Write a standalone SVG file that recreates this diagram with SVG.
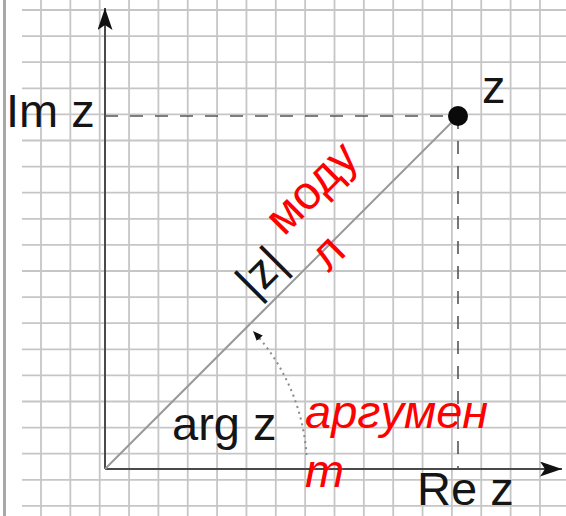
<svg xmlns="http://www.w3.org/2000/svg" width="566" height="516" viewBox="0 0 566 516">
<style>
.grid{stroke:#c6c6c6;stroke-width:1.8;fill:none}
.border{stroke:#a8a8a8;stroke-width:3;fill:none}
.axis{stroke:#4a4a4a;stroke-width:2;fill:none}
.dash{stroke:#555;stroke-width:1.6;stroke-dasharray:13 12;fill:none}
.radius{stroke:#9a9a9a;stroke-width:2;fill:none}
.arc{stroke:#8a8a8a;stroke-width:2;stroke-dasharray:2 4;fill:none}
.lbl{font-family:"Liberation Sans",Arial,sans-serif;font-size:47px;fill:#151515}
.red{font-family:"Liberation Sans",Arial,sans-serif;font-size:47px;fill:#ff0000}
.it{font-style:italic}
</style>
<defs>
<marker id="axhead" viewBox="0 0 22 15" refX="22" refY="7.5" markerWidth="22" markerHeight="15" markerUnits="userSpaceOnUse" orient="auto">
<path d="M0,0 L22,7.5 L0,15 L5,7.5 z" fill="#111"/>
</marker>
<marker id="archead" viewBox="0 0 10 8" refX="10" refY="4" markerWidth="10" markerHeight="8" markerUnits="userSpaceOnUse" orient="auto">
<path d="M0,0 L10,4 L0,8 z" fill="#111"/>
</marker>
</defs>
<rect width="566" height="516" fill="#ffffff"/>
<g id="grid">
<path class="grid" d="M41,0V516M70.35,0V516M99.7,0V516M129.05,0V516M158.4,0V516M187.75,0V516M217.1,0V516M246.45,0V516M275.8,0V516M305.15,0V516M334.5,0V516M363.85,0V516M393.2,0V516M422.55,0V516M451.9,0V516M481.25,0V516M510.6,0V516M539.95,0V516"/>
<path class="grid" d="M22,10H566M22,36.1H566M22,62.2H566M22,88.3H566M22,114.4H566M22,140.5H566M22,166.6H566M22,192.7H566M22,218.8H566M22,244.9H566M22,271H566M22,297.1H566M22,323.2H566M22,349.3H566M22,375.4H566M22,401.5H566M22,427.6H566M22,453.7H566M22,479.8H566M22,505.9H566"/>
<path class="border" d="M4.5,0V516"/>
</g>
<g id="connectors">
<path class="axis" d="M105,469V8" marker-end="url(#axhead)"/>
<path class="axis" d="M105,469H562" marker-end="url(#axhead)"/>
<path class="dash" d="M105,116H458"/>
<path class="dash" d="M458,116V469"/>
<path class="radius" d="M105,469L458,116"/>
<path class="arc" d="M306.5,455 A202,202 0 0 0 253,331" marker-end="url(#archead)"/>
</g>
<g id="point-z">
<circle cx="458" cy="116" r="10" fill="#0a0a0a"/>
<text class="lbl" x="482" y="103">z</text>
</g>
<g id="label-im">
<text class="lbl" x="6" y="127" font-size="49">Im z</text>
</g>
<g id="label-re">
<text class="lbl" x="417" y="505" font-size="44">Re z</text>
</g>
<g id="label-arg">
<text class="lbl" x="172" y="440" font-size="48">arg z</text>
</g>
<g id="label-abs">
<text class="lbl" transform="translate(255,300) rotate(-45)">|z|</text>
</g>
<g id="label-modul">
<text class="red" transform="translate(284,237) rotate(-45)"><tspan x="0" y="0">моду</tspan><tspan x="6" y="57">л</tspan></text>
</g>
<g id="label-argument">
<text class="red it" x="305" y="428" font-size="48">аргумен</text>
<text class="red it" x="305" y="487" font-size="48">т</text>
</g>
</svg>
